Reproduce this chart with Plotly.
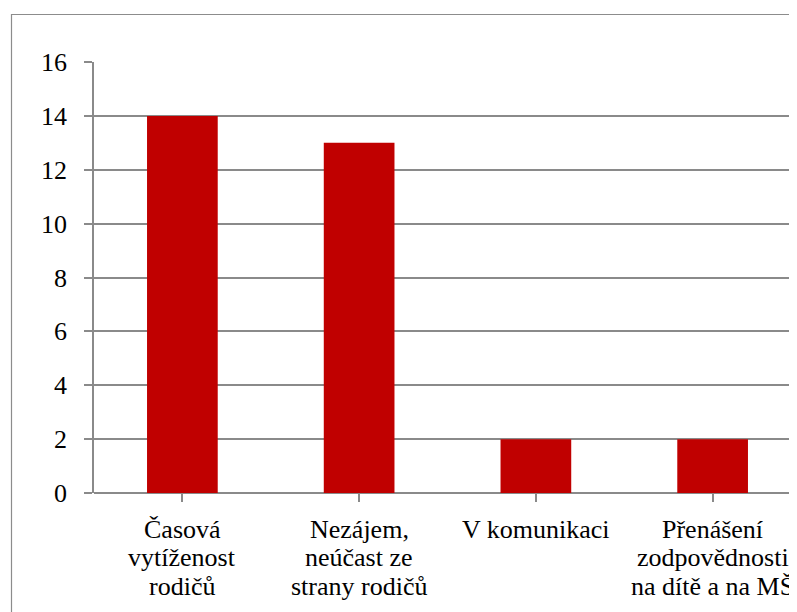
import plotly.graph_objects as go

categories = ["Časová<br>vytíženost<br>rodičů",
              "Nezájem,<br>neúčast ze<br>strany rodičů",
              "V komunikaci",
              "Přenášení<br>zodpovědnosti<br>na dítě a na MŠ"]
values = [14, 13, 2, 2]
y_ticks = [0, 2, 4, 6, 8, 10, 12, 14, 16]

font_family = "Liberation Serif, Times New Roman, serif"
grid_color = "#8a8a8a"

# page body adds an 8px margin, so the figure is sized/offset to compensate
W, H = 789, 604
L, T, PW, PH = 86, 54, 703, 431

fig = go.Figure()
fig.add_trace(go.Bar(
    x=list(range(len(categories))),
    y=values,
    width=0.4,
    marker=dict(color="#C00000", line=dict(width=0)),
))

# x labels: one annotation per line so the line spacing matches
for i, lab in enumerate(categories):
    for j, line in enumerate(lab.split("<br>")):
        fig.add_annotation(
            x=i, y=0, xref="x", yref="y",
            text=line, showarrow=False,
            xanchor="center", yanchor="middle",
            yshift=-36 - j * 28.5,
            font=dict(family=font_family, size=26, color="black"),
        )

# outer chart border (right/bottom lie outside the picture)
fig.add_shape(type="rect", xref="paper", yref="paper",
              x0=(3.5 - L) / PW, x1=1.02,
              y0=-0.4, y1=(T + PH - 6.5) / PH,
              line=dict(color="#8c8c8c", width=1.2), layer="below")

fig.update_layout(
    width=W, height=H,
    margin=dict(l=L, r=W - L - PW, t=T, b=H - T - PH, pad=0),
    paper_bgcolor="white", plot_bgcolor="white",
    showlegend=False,
    font=dict(family=font_family, size=26, color="black"),
    xaxis=dict(
        range=[-0.5, -0.5 + PW / 176.75],
        tickmode="array", tickvals=list(range(len(categories))),
        showticklabels=False,
        tickson="boundaries", ticks="outside", ticklen=8,
        tickcolor=grid_color, tickwidth=1.5,
        showgrid=False, zeroline=False, showline=False,
    ),
    yaxis=dict(
        range=[0, 16], tickvals=y_ticks,
        ticks="outside", ticklen=8, tickcolor=grid_color, tickwidth=1.5,
        showgrid=True, gridcolor=grid_color, gridwidth=1.5,
        zeroline=True, zerolinecolor=grid_color, zerolinewidth=1.5,
        showline=True, linecolor=grid_color, linewidth=1.5,
        ticklabelstandoff=12,
        tickfont=dict(family=font_family, size=26, color="black"),
    ),
)

fig.write_html("out.html")
